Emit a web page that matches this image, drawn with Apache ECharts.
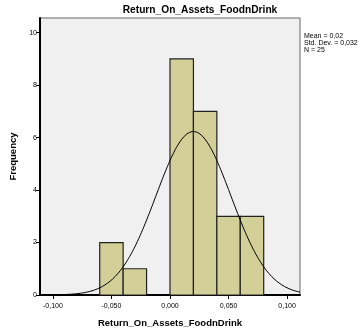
<!DOCTYPE html>
<html><head><meta charset="utf-8">
<script src="https://cdn.jsdelivr.net/npm/echarts@6/dist/echarts.min.js"></script>
<style>html,body{margin:0;padding:0;background:#fff}#c{width:358px;height:333px}</style>
</head><body><div id="c"></div>
<script>
var binStarts = [-0.06, -0.04, -0.02, 0.00, 0.02, 0.04, 0.06];
var binCounts = [2, 1, 0, 9, 7, 3, 3];
var binWidth = 0.02;
var xTicks = [-0.1, -0.05, 0, 0.05, 0.1];
var xTickLabels = ['-0,100', '-0,050', '0,000', '0,050', '0,100'];
var yTicks = [0, 2, 4, 6, 8, 10];
var statMean = 0.02, statSd = 0.032, statN = 25;
var statLines = ['Mean = 0,02', 'Std. Dev. = 0,032', 'N = 25'];
var titleText = 'Return_On_Assets_FoodnDrink';

var xMin = -0.111, xMax = 0.111;
var barData = [];
for (var i = 0; i < binStarts.length; i++) {
  if (binCounts[i] > 0) barData.push([binStarts[i], binStarts[i] + binWidth, binCounts[i]]);
}
// fitted normal curve from the stated mean / sd / N
var curve = [];
for (var k = 0; k <= 200; k++) {
  var x = xMin + (xMax - xMin) * k / 200;
  var z = (x - statMean) / statSd;
  curve.push([x, statN * binWidth / (statSd * Math.sqrt(2 * Math.PI)) * Math.exp(-0.5 * z * z)]);
}
var chart = echarts.init(document.getElementById('c'), null, {renderer: 'canvas'});
var ff = '"Liberation Sans", Arial, sans-serif';
chart.setOption({
  animation: false,
  graphic: [
    {type: 'text', x: 200, y: 10,
      style: {text: titleText, font: 'bold 10.2px ' + ff, fill: '#000', align: 'center', verticalAlign: 'middle'}},
    {type: 'text', x: 304, y: 33,
      style: {text: statLines.join('\n'), font: '7px ' + ff, fill: '#000', lineHeight: 7}}],
  grid: {left: 37, right: 58, top: 18, bottom: 37, show: true, backgroundColor: '#f0f0f0',
    borderColor: '#666', borderWidth: 1},
  xAxis: {type: 'value', min: xMin, max: xMax,
    name: titleText, nameLocation: 'middle', nameGap: 23,
    nameTextStyle: {fontFamily: ff, fontSize: 9.5, fontWeight: 'bold', color: '#000'},
    axisLine: {show: true, onZero: false, lineStyle: {color: '#000', width: 2}},
    axisTick: {show: true, length: 4, customValues: xTicks, lineStyle: {color: '#000'}},
    axisLabel: {customValues: xTicks, fontFamily: ff, fontSize: 7, color: '#000', margin: 8,
      formatter: function (v) { var i = xTicks.indexOf(v); return i >= 0 ? xTickLabels[i] : ''; }},
    splitLine: {show: false}},
  yAxis: {type: 'value', min: 0, max: 10.56,
    name: 'Frequency', nameLocation: 'middle', nameGap: 22,
    nameTextStyle: {fontFamily: ff, fontSize: 9.5, fontWeight: 'bold', color: '#000'},
    axisLine: {show: true, onZero: false, lineStyle: {color: '#000', width: 2}},
    axisTick: {show: true, length: 4, customValues: yTicks, lineStyle: {color: '#000'}},
    axisLabel: {customValues: yTicks, fontFamily: ff, fontSize: 7, color: '#000', margin: 3},
    splitLine: {show: false}},
  series: [{
    type: 'custom', data: barData, z: 2,
    renderItem: function (params, api) {
      var p0 = api.coord([api.value(0), api.value(2)]);
      var p1 = api.coord([api.value(1), 0]);
      return {type: 'rect', shape: {x: p0[0], y: p0[1], width: p1[0] - p0[0], height: p1[1] - p0[1]},
        style: {fill: '#d3cf98', stroke: '#222', lineWidth: 1.2}};
    }
  }, {
    type: 'line', data: curve, showSymbol: false, z: 3, smooth: false,
    lineStyle: {color: '#000', width: 1}
  }]
});
</script></body></html>
